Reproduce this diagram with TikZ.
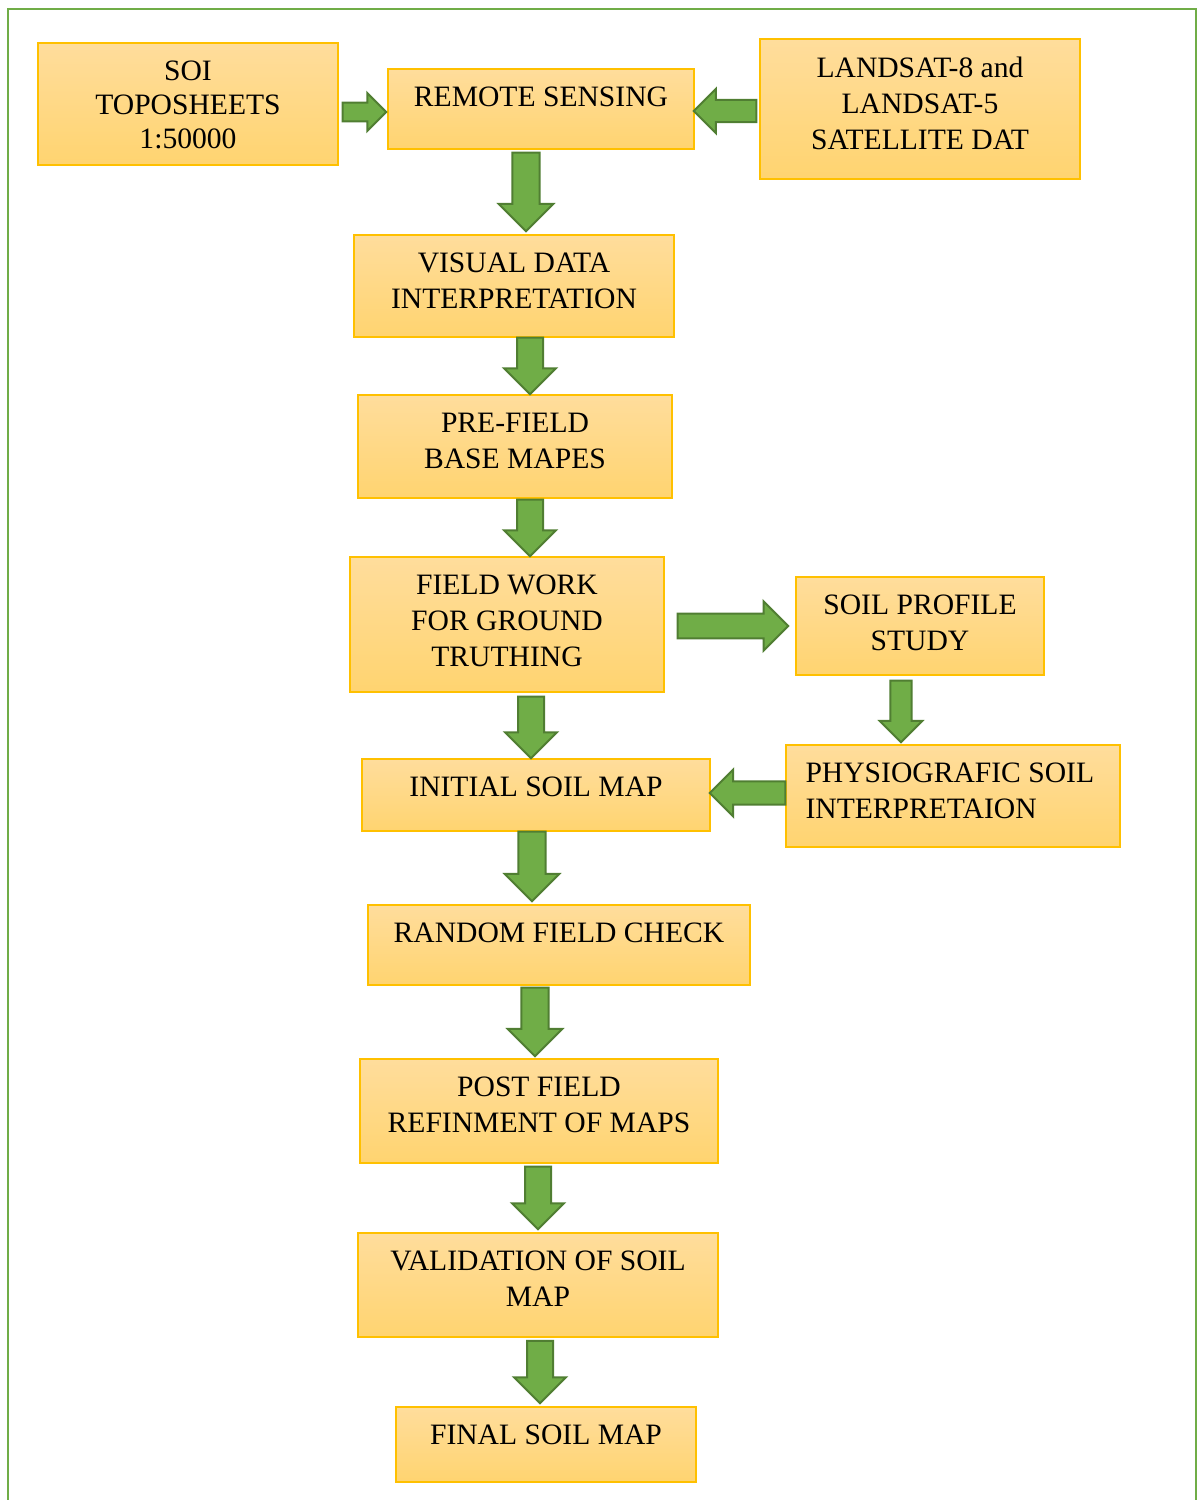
\documentclass[tikz,border=0pt]{standalone}
\usepackage{fontspec}
\setmainfont{Liberation Serif}
\usepackage{xcolor}
\usepackage{tikz}
\usetikzlibrary{calc,positioning}

\definecolor{boxtop}{RGB}{255,221,156}
\definecolor{boxbot}{RGB}{255,212,112}
\definecolor{boxline}{RGB}{255,192,0}
\definecolor{arrfill}{RGB}{112,173,71}
\definecolor{arrline}{RGB}{80,126,50}

\tikzset{
    stepbox/.style={rectangle, draw=boxline, line width=1.1pt,
        top color=boxtop, bottom color=boxbot, inner sep=0pt},
    boxtext/.style={font=\fontsize{22.2}{27}\selectfont, align=center,
        inner sep=0pt, anchor=north},
    blockarrow/.style={fill=arrfill, draw=arrline, line width=1.5pt, line join=miter}
}

% block arrow from #2 to #3 (tip), #1 scales its size
\newcommand{\flowarrow}[3][1]{%
    \pgfmathsetlengthmacro{\faw}{#1*9.75pt}%
    \pgfmathsetlengthmacro{\fah}{#1*19.5pt}%
    \pgfmathsetlengthmacro{\fal}{#1*19.5pt}%
    \coordinate (fa-s) at (#2);
    \coordinate (fa-e) at (#3);
    \coordinate (fa-h) at ($(fa-e)!\fal!(fa-s)$);
    \draw[blockarrow] ($(fa-s)!\faw!90:(fa-e)$) -- ($(fa-h)!\faw!90:(fa-e)$)
        -- ($(fa-h)!\fah!90:(fa-e)$) -- (fa-e) -- ($(fa-h)!\fah!-90:(fa-e)$)
        -- ($(fa-h)!\faw!-90:(fa-e)$) -- ($(fa-s)!\faw!-90:(fa-e)$) -- cycle;
}

\begin{document}
\begin{tikzpicture}[x=0.75pt, y=-0.75pt]
    \useasboundingbox (0,0) rectangle (1197,1500);
    % Outer frame (open at the bottom)
    \draw[line width=2.2pt, arrfill] (8,1500) -- (8,9) -- (1196,9) -- (1196,1500);

    % Input boxes
    \node[stepbox, minimum width=225pt, minimum height=91.5pt] (soi) at (188,104) {};
    \node[stepbox, minimum width=229.5pt, minimum height=60pt] (rsense) at (541,109) {};
    \node[stepbox, minimum width=240pt, minimum height=105pt] (landsat) at (920,109) {};

    % Main chain
    \node[stepbox, minimum width=240pt, minimum height=76.5pt] (visual) at (514,286) {};
    \node[stepbox, minimum width=235.5pt, minimum height=77.25pt] (prefield) at (515,446.5) {};
    \node[stepbox, minimum width=235.5pt, minimum height=101.25pt] (fieldwork) at (507,624.5) {};
    \node[stepbox, minimum width=261pt, minimum height=54pt] (initial) at (536,795) {};
    \node[stepbox, minimum width=286.5pt, minimum height=60pt] (random) at (559,945) {};
    \node[stepbox, minimum width=268.5pt, minimum height=78pt] (postfield) at (539,1111) {};
    \node[stepbox, minimum width=270pt, minimum height=78pt] (validate) at (538,1285) {};
    \node[stepbox, minimum width=225pt, minimum height=56.25pt] (final) at (546,1444.5) {};

    % Side branch
    \node[stepbox, minimum width=186pt, minimum height=73.5pt] (profile) at (920,626) {};
    \node[stepbox, minimum width=250.5pt, minimum height=76.5pt] (physio) at (953,796) {};

    % Box texts
    \node[boxtext] (soi-t) at ([yshift=-13.8pt]soi.north) {SOI\\[-1.5pt]TOPOSHEETS\\[-1.5pt]1:50000};
    \node[boxtext] (rsense-t) at ([yshift=-13.8pt]rsense.north) {REMOTE SENSING};
    \node[boxtext] (landsat-t) at ([yshift=-13.8pt]landsat.north) {LANDSAT-8 and\\LANDSAT-5\\SATELLITE DAT};
    \node[boxtext] (visual-t) at ([yshift=-13.8pt]visual.north) {VISUAL DATA\\INTERPRETATION};
    \node[boxtext] (prefield-t) at ([yshift=-13.8pt]prefield.north) {PRE-FIELD\\BASE MAPES};
    \node[boxtext] (fieldwork-t) at ([yshift=-13.8pt]fieldwork.north) {FIELD WORK\\FOR GROUND\\TRUTHING};
    \node[boxtext] (initial-t) at ([yshift=-13.8pt]initial.north) {INITIAL SOIL MAP};
    \node[boxtext] (random-t) at ([yshift=-13.8pt]random.north) {RANDOM FIELD CHECK};
    \node[boxtext] (postfield-t) at ([yshift=-13.8pt]postfield.north) {POST FIELD\\REFINMENT OF MAPS};
    \node[boxtext] (validate-t) at ([yshift=-13.8pt]validate.north) {VALIDATION OF SOIL\\MAP};
    \node[boxtext] (final-t) at ([yshift=-13.8pt]final.north) {FINAL SOIL MAP};
    \node[boxtext] (profile-t) at ([yshift=-13.8pt]profile.north) {SOIL PROFILE\\STUDY};
    \node[boxtext, align=left, anchor=north west] (physio-t) at ([xshift=15pt, yshift=-13.8pt]physio.north west) {PHYSIOGRAFIC SOIL\\INTERPRETAION};

    % Arrows
    \flowarrow[0.73]{[xshift=3pt, yshift=-6pt]soi.east}{[xshift=-0.75pt, yshift=-2.25pt]rsense.west}
    \flowarrow[0.85]{[xshift=-2.25pt, yshift=-1.5pt]landsat.west}{[xshift=-0.75pt, yshift=-1.5pt]rsense.east}
    \flowarrow[1.05]{[xshift=-11.25pt, yshift=-2.25pt]rsense.south}{[xshift=9pt, yshift=2.25pt]visual.north}
    \flowarrow{[xshift=12pt]visual.south}{[xshift=11.25pt]prefield.north}
    \flowarrow{[xshift=11.25pt, yshift=-0.75pt]prefield.south}{[xshift=17.25pt]fieldwork.north}
    \flowarrow[0.95]{[xshift=9.75pt, yshift=-1.1pt]fieldwork.east}{[xshift=-5.25pt]profile.west}
    \flowarrow[0.82]{[xshift=-14.25pt, yshift=-3.75pt]profile.south}{[xshift=-39pt, yshift=1.5pt]physio.north}
    \flowarrow{[xshift=18pt, yshift=-3pt]fieldwork.south}{[xshift=-3.75pt]initial.north}
    \flowarrow[0.9]{[yshift=2.25pt]physio.west}{[xshift=-0.75pt, yshift=1.5pt]initial.east}
    \flowarrow[1.05]{[xshift=-3pt]initial.south}{[xshift=-20.25pt, yshift=2.25pt]random.north}
    \flowarrow[1.05]{[xshift=-18pt, yshift=-1.5pt]random.south}{[xshift=-3pt, yshift=1.5pt]postfield.north}
    \flowarrow{[xshift=-0.75pt, yshift=-2.25pt]postfield.south}{[yshift=2.25pt]validate.north}
    \flowarrow{[xshift=1.5pt, yshift=-2.25pt]validate.south}{[xshift=-4.5pt, yshift=2.25pt]final.north}
\end{tikzpicture}
\end{document}
